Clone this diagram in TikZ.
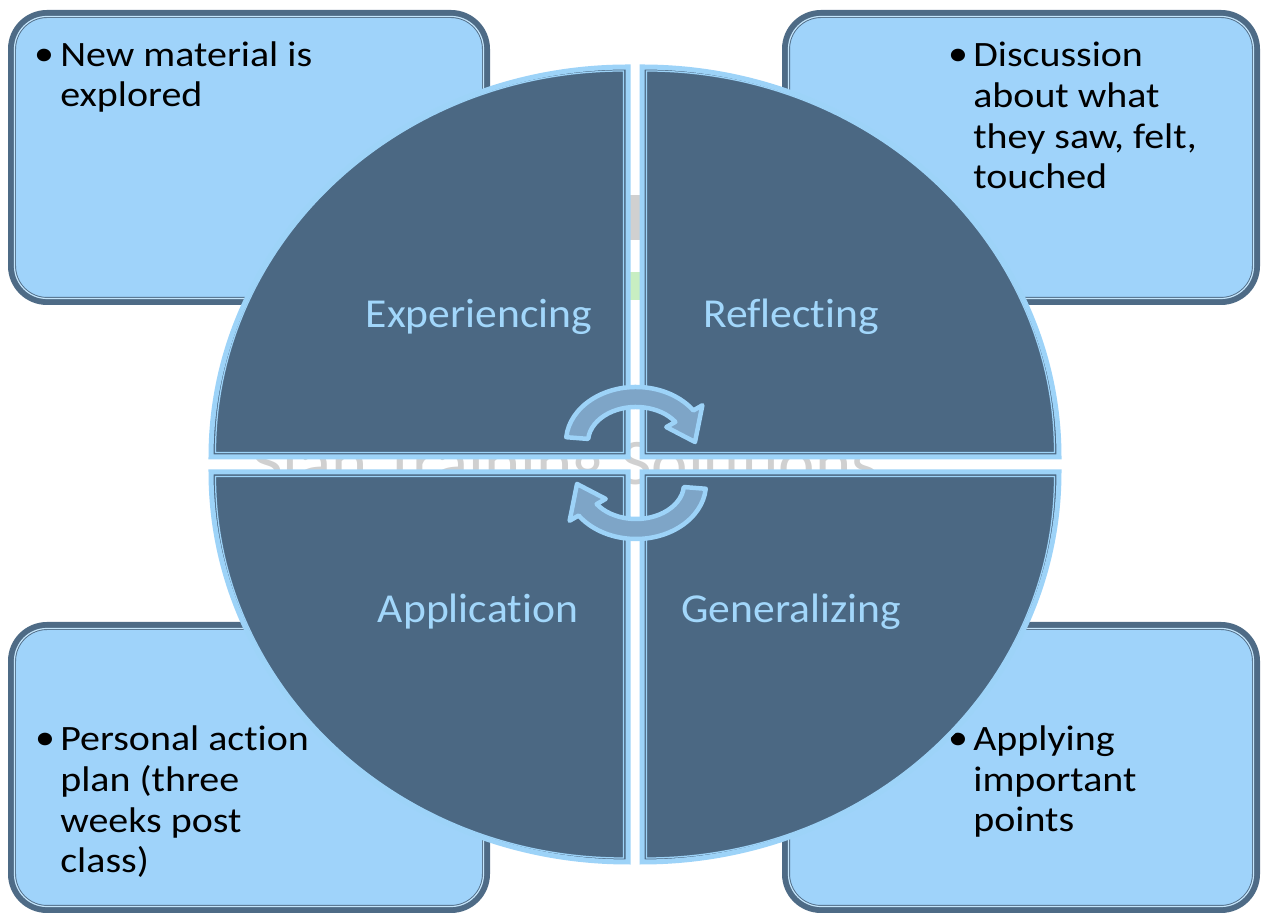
\documentclass[tikz,border=0pt]{standalone}
\usepackage{fontspec}
\setmainfont{Carlito}[Ligatures=NoCommon]
\newfontfamily\boxfont{Carlito}[FakeStretch=1.12, Ligatures=NoCommon]
\newfontfamily\quadfont{Carlito}[FakeStretch=1.06, Ligatures=NoCommon]
\usetikzlibrary{positioning}

\definecolor{boxfill}{HTML}{9FD3FA}
\definecolor{boxedge}{HTML}{4E6B86}
\definecolor{quadfill}{HTML}{4B6883}
\definecolor{quadedge}{HTML}{9DD3F8}
\definecolor{quadtext}{HTML}{A2D7FB}
\definecolor{arrowfill}{HTML}{7EA5C7}
\definecolor{markgrey}{HTML}{D0D0D0}
\definecolor{markgreen}{HTML}{C8EEC2}

\begin{document}
\begin{tikzpicture}[x=0.02cm, y=0.02cm,
  cornerbox/.style={fill=boxfill, draw=boxedge, line width=0.16cm, rounded corners=0.7cm},
  cornerline/.style={draw=quadedge!60!white, line width=0.024cm, rounded corners=0.65cm},
  quadrant/.style={fill=quadfill, draw=quadedge, line width=0.1cm},
  quadline/.style={draw=quadedge, line width=0.025cm},
  bullettext/.style={font=\boxfont\fontsize{20.3}{23.3}\selectfont, align=left, anchor=base west, inner sep=0pt},
  bulletdot/.style={font=\boxfont\fontsize{20.3}{23.3}\selectfont, anchor=base, inner sep=0pt},
  quadlabel/.style={font=\quadfont\fontsize{23.4}{28}\selectfont, text=quadtext, anchor=base, inner sep=0pt},
  cyclearrow/.style={fill=arrowfill, draw=quadedge, line width=0.09cm, line join=round}]

\useasboundingbox (0,0) rectangle (1262,915);

% ========================
% CORNER BOXES
% ========================

\draw[cornerbox] (12,614) rectangle (486,901);    % top left
\draw[cornerline] (14.5,616.5) rectangle (483.5,898.5);
\draw[cornerbox] (786,614) rectangle (1256,901);  % top right
\draw[cornerline] (788.5,616.5) rectangle (1253.5,898.5);
\draw[cornerbox] (12,6) rectangle (486,289);      % bottom left
\draw[cornerline] (14.5,8.5) rectangle (483.5,286.5);
\draw[cornerbox] (786,6) rectangle (1256,289);    % bottom right
\draw[cornerline] (788.5,8.5) rectangle (1253.5,286.5);

% box texts (base of a text = its last line)
\node[bulletdot] (dot-exp) at (44,849) {•};
\node[bullettext] (explore) at (60,808) {New material is\\explored};

\node[bulletdot] (dot-ref) at (958,849) {•};
\node[bullettext] (discuss) at (973,726) {Discussion\\about what\\they saw, felt,\\touched};

\node[bulletdot] (dot-app) at (45,165) {•};
\node[bullettext] (plan) at (60,42) {Personal action\\plan (three\\weeks post\\class)};

\node[bulletdot] (dot-gen) at (958,165) {•};
\node[bullettext] (apply) at (973,83) {Applying\\important\\points};

% ========================
% WATERMARK (behind the circle)
% ========================

\fill[markgrey] (600,675) rectangle (680,720);
\fill[markgreen] (600,615) rectangle (680,643);
\node[font=\quadfont\fontsize{37}{40}\selectfont, text=markgrey, anchor=base] (mark) at (565,430) {Slan Training Solutions};

% ========================
% CIRCLE OF FOUR QUADRANTS
% ========================

% top left
\draw[quadrant] (628,458) -- (628,848) arc[start angle=90, end angle=180, x radius=417, y radius=390] -- cycle;
\draw[quadline] (623.5,462.5) -- (623.5,844) arc[start angle=90, end angle=180, x radius=408, y radius=381.5] -- cycle;

% top right
\draw[quadrant] (642,458) -- (1059,458) arc[start angle=0, end angle=90, x radius=417, y radius=390] -- cycle;
\draw[quadline] (646.5,462.5) -- (1054.5,462.5) arc[start angle=0, end angle=90, x radius=408, y radius=381.5] -- cycle;

% bottom right
\draw[quadrant] (642,443) -- (642,53) arc[start angle=270, end angle=360, x radius=417, y radius=390] -- cycle;
\draw[quadline] (646.5,438.5) -- (646.5,57) arc[start angle=270, end angle=360, x radius=408, y radius=381.5] -- cycle;

% bottom left
\draw[quadrant] (628,443) -- (211,443) arc[start angle=180, end angle=270, x radius=417, y radius=390] -- cycle;
\draw[quadline] (623.5,438.5) -- (215.5,438.5) arc[start angle=180, end angle=270, x radius=408, y radius=381.5] -- cycle;

% quadrant labels
\node[quadlabel] (lab-exp) at (479,587) {Experiencing};
\node[quadlabel] (lab-ref) at (791,587) {Reflecting};
\node[quadlabel] (lab-app) at (478,292) {Application};
\node[quadlabel] (lab-gen) at (791,292) {Generalizing};

% ========================
% CYCLE ARROWS
% ========================

\draw[cyclearrow, shift={(636,473)}] (175:70 and 55) arc[start angle=175, end angle=35, x radius=70, y radius=55]
  -- (35:81 and 64) -- (0:59 and 45) -- (35:37 and 26) -- (35:48 and 35)
  arc[start angle=35, end angle=175, x radius=48, y radius=35] -- cycle;
\draw[cyclearrow, shift={(636,431)}, rotate=180] (175:70 and 55) arc[start angle=175, end angle=35, x radius=70, y radius=55]
  -- (35:81 and 64) -- (0:59 and 45) -- (35:37 and 26) -- (35:48 and 35)
  arc[start angle=35, end angle=175, x radius=48, y radius=35] -- cycle;

\end{tikzpicture}
\end{document}
